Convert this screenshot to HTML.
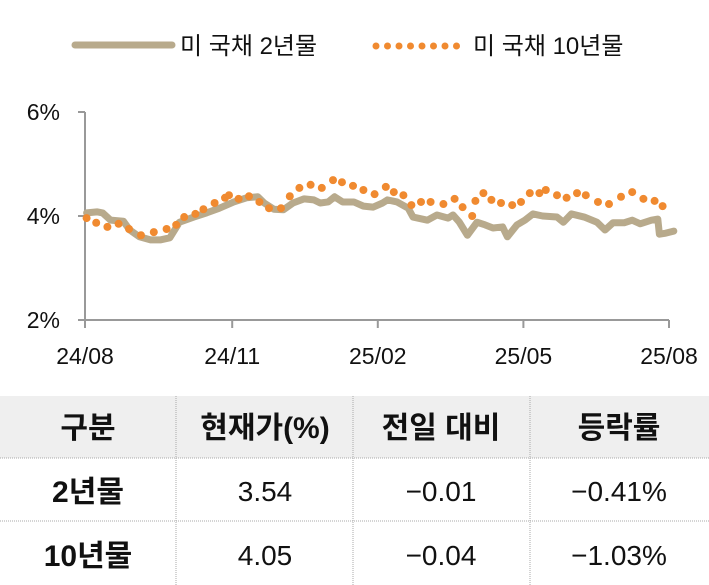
<!DOCTYPE html>
<html><head><meta charset="utf-8"><style>
html,body{margin:0;padding:0;background:#fff;width:709px;height:585px;overflow:hidden}
svg text{font-family:"Liberation Sans","Noto Sans CJK KR",sans-serif}
</style></head><body>
<svg id="chart" width="709" height="585" xmlns="http://www.w3.org/2000/svg">
<g>
<line x1="75" y1="45" x2="172" y2="45" stroke="#b8aa8c" stroke-width="7" stroke-linecap="round"/>
<text x="180" y="54" font-size="24" fill="#111">미 국채 2년물</text>
<g id="legdots"></g>
<text x="473" y="54" font-size="24" fill="#111">미 국채 10년물</text>
</g>
<g id="axes"></g>
<g id="series"></g>
<g>
<rect x="0" y="396" width="709" height="62" fill="#efefef"/>
<g stroke="#aaa" stroke-width="1" stroke-dasharray="1,1">
<line x1="0" y1="458" x2="709" y2="458"/><line x1="0" y1="521" x2="709" y2="521"/>
<line x1="176" y1="396" x2="176" y2="585"/><line x1="353" y1="396" x2="353" y2="585"/><line x1="530" y1="396" x2="530" y2="585"/>
</g>
<g font-size="30" font-weight="bold" text-anchor="middle" fill="#111">
<text x="88" y="438">구분</text>
<text x="265" y="438">현재가(%)</text>
<text x="441" y="438">전일 대비</text>
<text x="619" y="438">등락률</text>
<text x="88" y="502">2년물</text>
<text x="88" y="566">10년물</text>
</g>
<g font-size="28" text-anchor="middle" fill="#111">
<text x="265" y="501">3.54</text>
<text x="441" y="501">−0.01</text>
<text x="619" y="501">−0.41%</text>
<text x="265" y="565">4.05</text>
<text x="441" y="565">−0.04</text>
<text x="619" y="565">−1.03%</text>
</g>
</g>
</svg>
<script>
const yTicks=[2,4,6];
const yTickLabels=["2%","4%","6%"];
const xTickDays=[0,92,183,274,365];
const xTickLabels=["24/08","24/11","25/02","25/05","25/08"];
const twoDays=[1,7.5,11,16,24,28,34,41,47,53,56,59,68,76,84,93,101,108,112,118,124,130,137,143,147,152,156,161,168,174,180,186,189,195,202,205,214,220,227,230,234,239,245,250,255,261,264,270,275,280,286,295,299,304,312,320,325,330,337,342,347,354,358,359,363,368];
const twoVals=[4.06,4.08,4.06,3.92,3.90,3.73,3.60,3.54,3.54,3.58,3.73,3.88,3.98,4.06,4.15,4.27,4.35,4.37,4.25,4.13,4.12,4.25,4.33,4.31,4.25,4.27,4.37,4.27,4.27,4.19,4.17,4.25,4.31,4.27,4.15,3.98,3.92,4.02,3.96,4.02,3.88,3.63,3.88,3.83,3.77,3.79,3.60,3.83,3.92,4.04,4.00,3.98,3.88,4.04,3.98,3.88,3.73,3.87,3.87,3.92,3.85,3.92,3.94,3.65,3.67,3.71];
const tenDays=[1,7,14,21,27.5,35,43,51,57,62,69,74,81,87.5,90,96,102.5,109,115,122.5,128,134,141,148,155,160.6,167.5,174,181,188,193,199,204,210,216,224,231,236,242,244,249,254,260,267,272.5,278,284,288,295,301,307.5,313,320.6,327.5,335,342,349,356,361];
const tenVals=[3.96,3.87,3.79,3.85,3.75,3.63,3.69,3.75,3.83,3.98,4.04,4.13,4.25,4.35,4.40,4.33,4.38,4.27,4.15,4.15,4.38,4.54,4.60,4.54,4.69,4.65,4.58,4.50,4.42,4.56,4.46,4.40,4.21,4.27,4.27,4.23,4.33,4.17,4.00,4.29,4.44,4.31,4.25,4.21,4.27,4.44,4.44,4.50,4.40,4.35,4.44,4.40,4.27,4.23,4.37,4.46,4.33,4.29,4.19];
const NS="http://www.w3.org/2000/svg";
const X=d=>85+d*(584/365);
const Y=v=>216-(v-4)*52;
function mk(tag,attrs,parent){const e=document.createElementNS(NS,tag);for(const k in attrs)e.setAttribute(k,attrs[k]);parent.appendChild(e);return e;}
const ax=document.getElementById('axes');
const yl=mk('line',{x1:85,y1:Y(6),x2:85,y2:Y(2),stroke:'#999','stroke-width':2},ax);


const xl=mk('line',{x1:85,y1:Y(2),x2:669,y2:Y(2),stroke:'#999','stroke-width':2},ax);


yTicks.forEach((t,i)=>{
 mk('line',{x1:78,y1:Y(t),x2:85,y2:Y(t),stroke:'#999','stroke-width':2},ax);
 const tx=mk('text',{x:60,y:Y(t)+8,'font-size':23,'text-anchor':'end',fill:'#111'},ax);
 tx.textContent=yTickLabels[i];
 
 
});
xTickDays.forEach((d,i)=>{
 mk('line',{x1:X(d),y1:Y(2),x2:X(d),y2:Y(2)+8,stroke:'#999','stroke-width':2},ax);
 const tx=mk('text',{x:X(d),y:364,'font-size':23,'text-anchor':'middle',fill:'#111'},ax);
 tx.textContent=xTickLabels[i];
 
 
});
const sg=document.getElementById('series');
const n=Math.min(twoDays.length,twoVals.length);
let pts=[];for(let i=0;i<n;i++)pts.push(X(twoDays[i])+','+Y(twoVals[i]));
const pl=mk('polyline',{points:pts.join(' '),fill:'none',stroke:'#b8aa8c','stroke-width':7,'stroke-linejoin':'round','stroke-linecap':'round'},sg);


const m=Math.min(tenDays.length,tenVals.length);
for(let i=0;i<m;i++){
 const c=mk('circle',{cx:X(tenDays[i]),cy:Y(tenVals[i]),r:4,fill:'#f08a30'},sg);
 
 
}
const lg=document.getElementById('legdots');
for(let i=0;i<8;i++){mk('circle',{cx:376+i*11.5,cy:46,r:3.5,fill:'#f08a30'},lg);}
</script>
</body></html>
